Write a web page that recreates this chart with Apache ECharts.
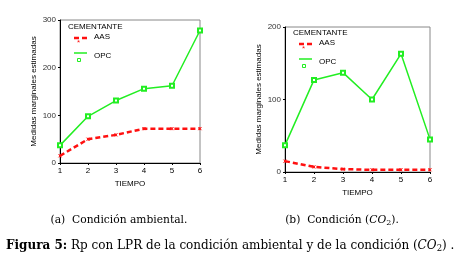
<!DOCTYPE html>
<html lang="en">
<head>
<meta charset="UTF-8">
<style>
  html, body { height: 100%; margin: 0; background: #fff; }
</style>
</head>
<body>
<div id="chart" style="width:463px;height:260px;"></div>
<script src="https://cdn.jsdelivr.net/npm/echarts@6/dist/echarts.min.js"></script>
<script>
// tiempo (x axis)
var tiempo = ['1', '2', '3', '4', '5', '6'];

// (a) condición ambiental
var aasAmbiental = [15, 50, 59, 72, 72, 72];
var opcAmbiental = [37, 98, 131, 156, 162, 278];

// (b) condición CO2
var aasCO2 = [15, 7, 4, 3, 3, 3];
var opcCO2 = [37, 127, 137, 100, 163, 45];

var yTicksA = [0, 100, 200, 300];
var yTicksB = [0, 100, 200];

var sans = 'Liberation Sans';
var serif = 'DejaVu Serif';
var red = '#ff1010';
var green = '#22ee22';

function xAxis(gi) {
    return {
        type: 'category', gridIndex: gi, data: tiempo, boundaryGap: false,
        name: 'TIEMPO', nameLocation: 'middle', nameGap: 10,
        nameTextStyle: { fontFamily: sans, fontSize: 8, color: '#000' },
        axisLine: { lineStyle: { color: '#000', width: 1 } },
        axisTick: { length: 2, lineStyle: { color: '#000' } },
        axisLabel: { fontFamily: sans, fontSize: 8, color: '#000', margin: 4 },
        splitLine: { show: false }
    };
}
function yAxis(gi, ticks) {
    return {
        type: 'value', gridIndex: gi, min: 0, max: ticks[ticks.length - 1], interval: 100,
        name: 'Medidas marginales estimadas', nameLocation: 'middle', nameGap: 22,
        nameTextStyle: { fontFamily: sans, fontSize: 8, color: '#000' },
        axisLine: { show: true, lineStyle: { color: '#000', width: 1 } },
        axisTick: { show: true, length: 2, lineStyle: { color: '#000' } },
        axisLabel: { fontFamily: sans, fontSize: 8, color: '#333', margin: 4 },
        splitLine: { show: false }
    };
}
function aasSeries(gi, data) {
    return {
        type: 'line', xAxisIndex: gi, yAxisIndex: gi, data: data,
        lineStyle: { color: red, width: 2.5, type: [5, 3] },
        symbol: 'path://M0,0L10,10M10,0L0,10M5,0L5,10', symbolSize: 3,
        itemStyle: { color: red, borderColor: red, borderWidth: 1 },
        z: 3
    };
}
function opcSeries(gi, data) {
    return {
        type: 'line', xAxisIndex: gi, yAxisIndex: gi, data: data,
        lineStyle: { color: green, width: 1.5 },
        symbol: 'emptyRect', symbolSize: 4,
        itemStyle: { color: green, borderColor: green, borderWidth: 1 },
        z: 4
    };
}
function legend(x, y) {
    var t = { fontFamily: sans, fontSize: 8, fill: '#000', verticalAlign: 'middle' };
    return {
        type: 'group', x: x, y: y, children: [
            { type: 'text', x: 0, y: 0, style: Object.assign({ text: 'CEMENTANTE' }, t) },
            { type: 'line', shape: { x1: 6, y1: 11, x2: 19, y2: 11 }, style: { stroke: red, lineWidth: 2.5, lineDash: [5, 3] } },
            { type: 'text', x: 26, y: 10, style: Object.assign({ text: 'AAS' }, t) },
            { type: 'text', x: 9, y: 16, style: { text: '*', fontFamily: sans, fontSize: 8, fill: red, verticalAlign: 'middle' } },
            { type: 'line', shape: { x1: 6, y1: 26, x2: 19, y2: 26 }, style: { stroke: green, lineWidth: 1.5 } },
            { type: 'text', x: 26, y: 29, style: Object.assign({ text: 'OPC' }, t) },
            { type: 'rect', shape: { x: 9.5, y: 31.5, width: 3, height: 3 }, style: { fill: 'none', stroke: green, lineWidth: 1 } }
        ]
    };
}

var capRich = {
    i: { fontFamily: serif, fontSize: 10.7, fontStyle: 'italic' },
    s: { fontFamily: serif, fontSize: 8, padding: [5, 0, 0, 0] }
};

var myChart = echarts.init(document.getElementById('chart'));
myChart.setOption({
    animation: false,
    backgroundColor: '#fff',
    grid: [
        { left: 60, top: 20, width: 140, height: 143, show: true, borderColor: '#888', borderWidth: 1 },
        { left: 285, top: 27, width: 145, height: 145, show: true, borderColor: '#888', borderWidth: 1 }
    ],
    xAxis: [xAxis(0), xAxis(1)],
    yAxis: [yAxis(0, yTicksA), yAxis(1, yTicksB)],
    series: [
        aasSeries(0, aasAmbiental), opcSeries(0, opcAmbiental),
        aasSeries(1, aasCO2), opcSeries(1, opcCO2)
    ],
    graphic: [
        legend(68, 27),
        legend(293, 33),
        { type: 'text', x: 119, y: 220, style: { text: '(a)  Condición ambiental.', fontFamily: serif, fontSize: 10.7, fill: '#000', align: 'center', verticalAlign: 'middle' } },
        { type: 'text', x: 342, y: 220, style: { text: '(b)  Condición ({i|CO}{s|2}).', fontFamily: serif, fontSize: 10.7, fill: '#000', align: 'center', verticalAlign: 'middle', rich: capRich } },
        { type: 'text', x: 6, y: 246, style: {
            text: '{b|Figura 5:} Rp con LPR de la condición ambiental y de la condición ({i|CO}{s|2}) .',
            fontFamily: serif, fontSize: 12, fill: '#000', verticalAlign: 'middle',
            rich: {
                b: { fontFamily: serif, fontSize: 12, fontWeight: 'bold' },
                i: { fontFamily: serif, fontSize: 12, fontStyle: 'italic' },
                s: { fontFamily: serif, fontSize: 8.5, padding: [5, 0, 0, 0] }
            } } }
    ]
});
</script>
</body>
</html>
